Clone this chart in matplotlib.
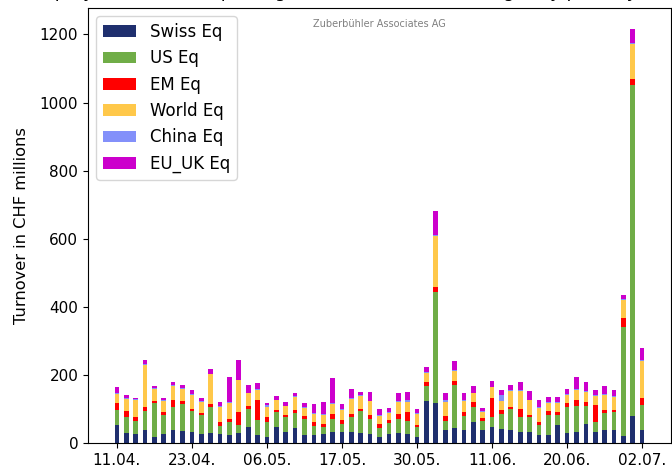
import numpy as np
import matplotlib
matplotlib.use('Agg')
import matplotlib.pyplot as plt

# daily turnover per category (CHF millions), one value per trading day
swiss = [53, 30, 26, 37, 19, 26, 37, 34, 33, 26, 29, 26, 22, 29, 47, 22, 19, 46, 33, 43,
         22, 22, 26, 33, 33, 33, 29, 26, 19, 26, 29, 26, 19, 122, 117, 37, 44, 37, 62, 37,
         47, 40, 37, 33, 33, 22, 22, 54, 30, 33, 57, 33, 37, 37, 21, 80, 39]
us = [44, 45, 38, 56, 98, 57, 69, 80, 60, 56, 77, 25, 39, 24, 53, 45, 43, 44, 42, 46,
      48, 28, 20, 38, 24, 42, 64, 45, 25, 32, 42, 38, 28, 45, 327, 28, 126, 42, 45, 28,
      28, 46, 63, 43, 43, 32, 61, 29, 77, 77, 51, 30, 50, 53, 320, 972, 72]
em = [21, 19, 11, 14, 7, 8, 19, 8, 7, 7, 8, 10, 8, 37, 8, 58, 13, 7, 7, 8,
      8, 11, 11, 15, 11, 11, 7, 11, 11, 9, 15, 26, 7, 12, 14, 14, 11, 12, 12, 7,
      57, 11, 7, 24, 7, 7, 10, 7, 11, 15, 13, 49, 10, 7, 25, 17, 21]
world = [27, 35, 52, 123, 35, 32, 42, 38, 42, 32, 88, 46, 48, 94, 38, 31, 32, 28, 26, 38,
         26, 24, 24, 28, 28, 42, 39, 40, 24, 21, 35, 31, 31, 27, 149, 42, 31, 33, 27, 18,
         31, 27, 46, 53, 42, 42, 25, 28, 24, 32, 29, 27, 45, 38, 54, 103, 110]
china = [3, 3, 3, 2, 3, 4, 3, 2, 2, 3, 2, 3, 2, 2, 2, 2, 4, 2, 2, 2,
         3, 3, 4, 3, 3, 3, 2, 2, 2, 2, 2, 6, 2, 3, 5, 5, 2, 3, 2, 3,
         2, 18, 2, 2, 2, 2, 2, 2, 2, 2, 2, 2, 2, 2, 4, 3, 2]
eu_uk = [15, 10, 3, 11, 5, 5, 8, 9, 12, 9, 13, 9, 76, 59, 22, 19, 7, 12, 9, 10,
         11, 26, 36, 74, 15, 29, 9, 26, 20, 12, 25, 23, 13, 15, 70, 20, 28, 19, 19, 11,
         16, 14, 14, 25, 25, 22, 14, 14, 15, 35, 26, 15, 22, 18, 10, 42, 35]

series = [swiss, us, em, world, china, eu_uk]
labels = ['Swiss Eq', 'US Eq', 'EM Eq', 'World Eq', 'China Eq', 'EU_UK Eq']
colors = ['#1f2f6e', '#70ad47', '#ff0000', '#ffc84a', '#8390fa', '#cc00cc']

tick_labels = ['11.04.', '23.04.', '06.05.', '17.05.', '30.05.', '11.06.', '20.06.', '02.07.']

fig = plt.figure(figsize=(6.72, 4.69), dpi=100)
ax = fig.add_axes([0.131, 0.0555, 0.8675, 0.9275])

x = np.arange(len(swiss))
bottom = np.zeros(len(swiss))
for vals, lab, col in zip(series, labels, colors):
    ax.bar(x, vals, width=0.5, bottom=bottom, color=col, label=lab)
    bottom += np.array(vals)

ax.set_xticks(x[::8])
ax.set_xticklabels(tick_labels)
ax.tick_params(labelsize=11)
ax.set_ylabel('Turnover in CHF millions', fontsize=11.7, labelpad=8)
ax.legend(loc='upper left', fontsize=12)

ax.text(0.5, 0.975, 'Zuberbühler Associates AG', transform=ax.transAxes,
        ha='center', va='top', fontsize=7, color='grey')

# title sits mostly above the visible area in the original (only descenders show)
fig.text(0.57, 1.0065, 'Equity ETF turnover per region on SIX Swiss Exchange (by primary category)',
         ha='center', va='baseline', fontsize=13)

fig.savefig('out.png', dpi=100)
